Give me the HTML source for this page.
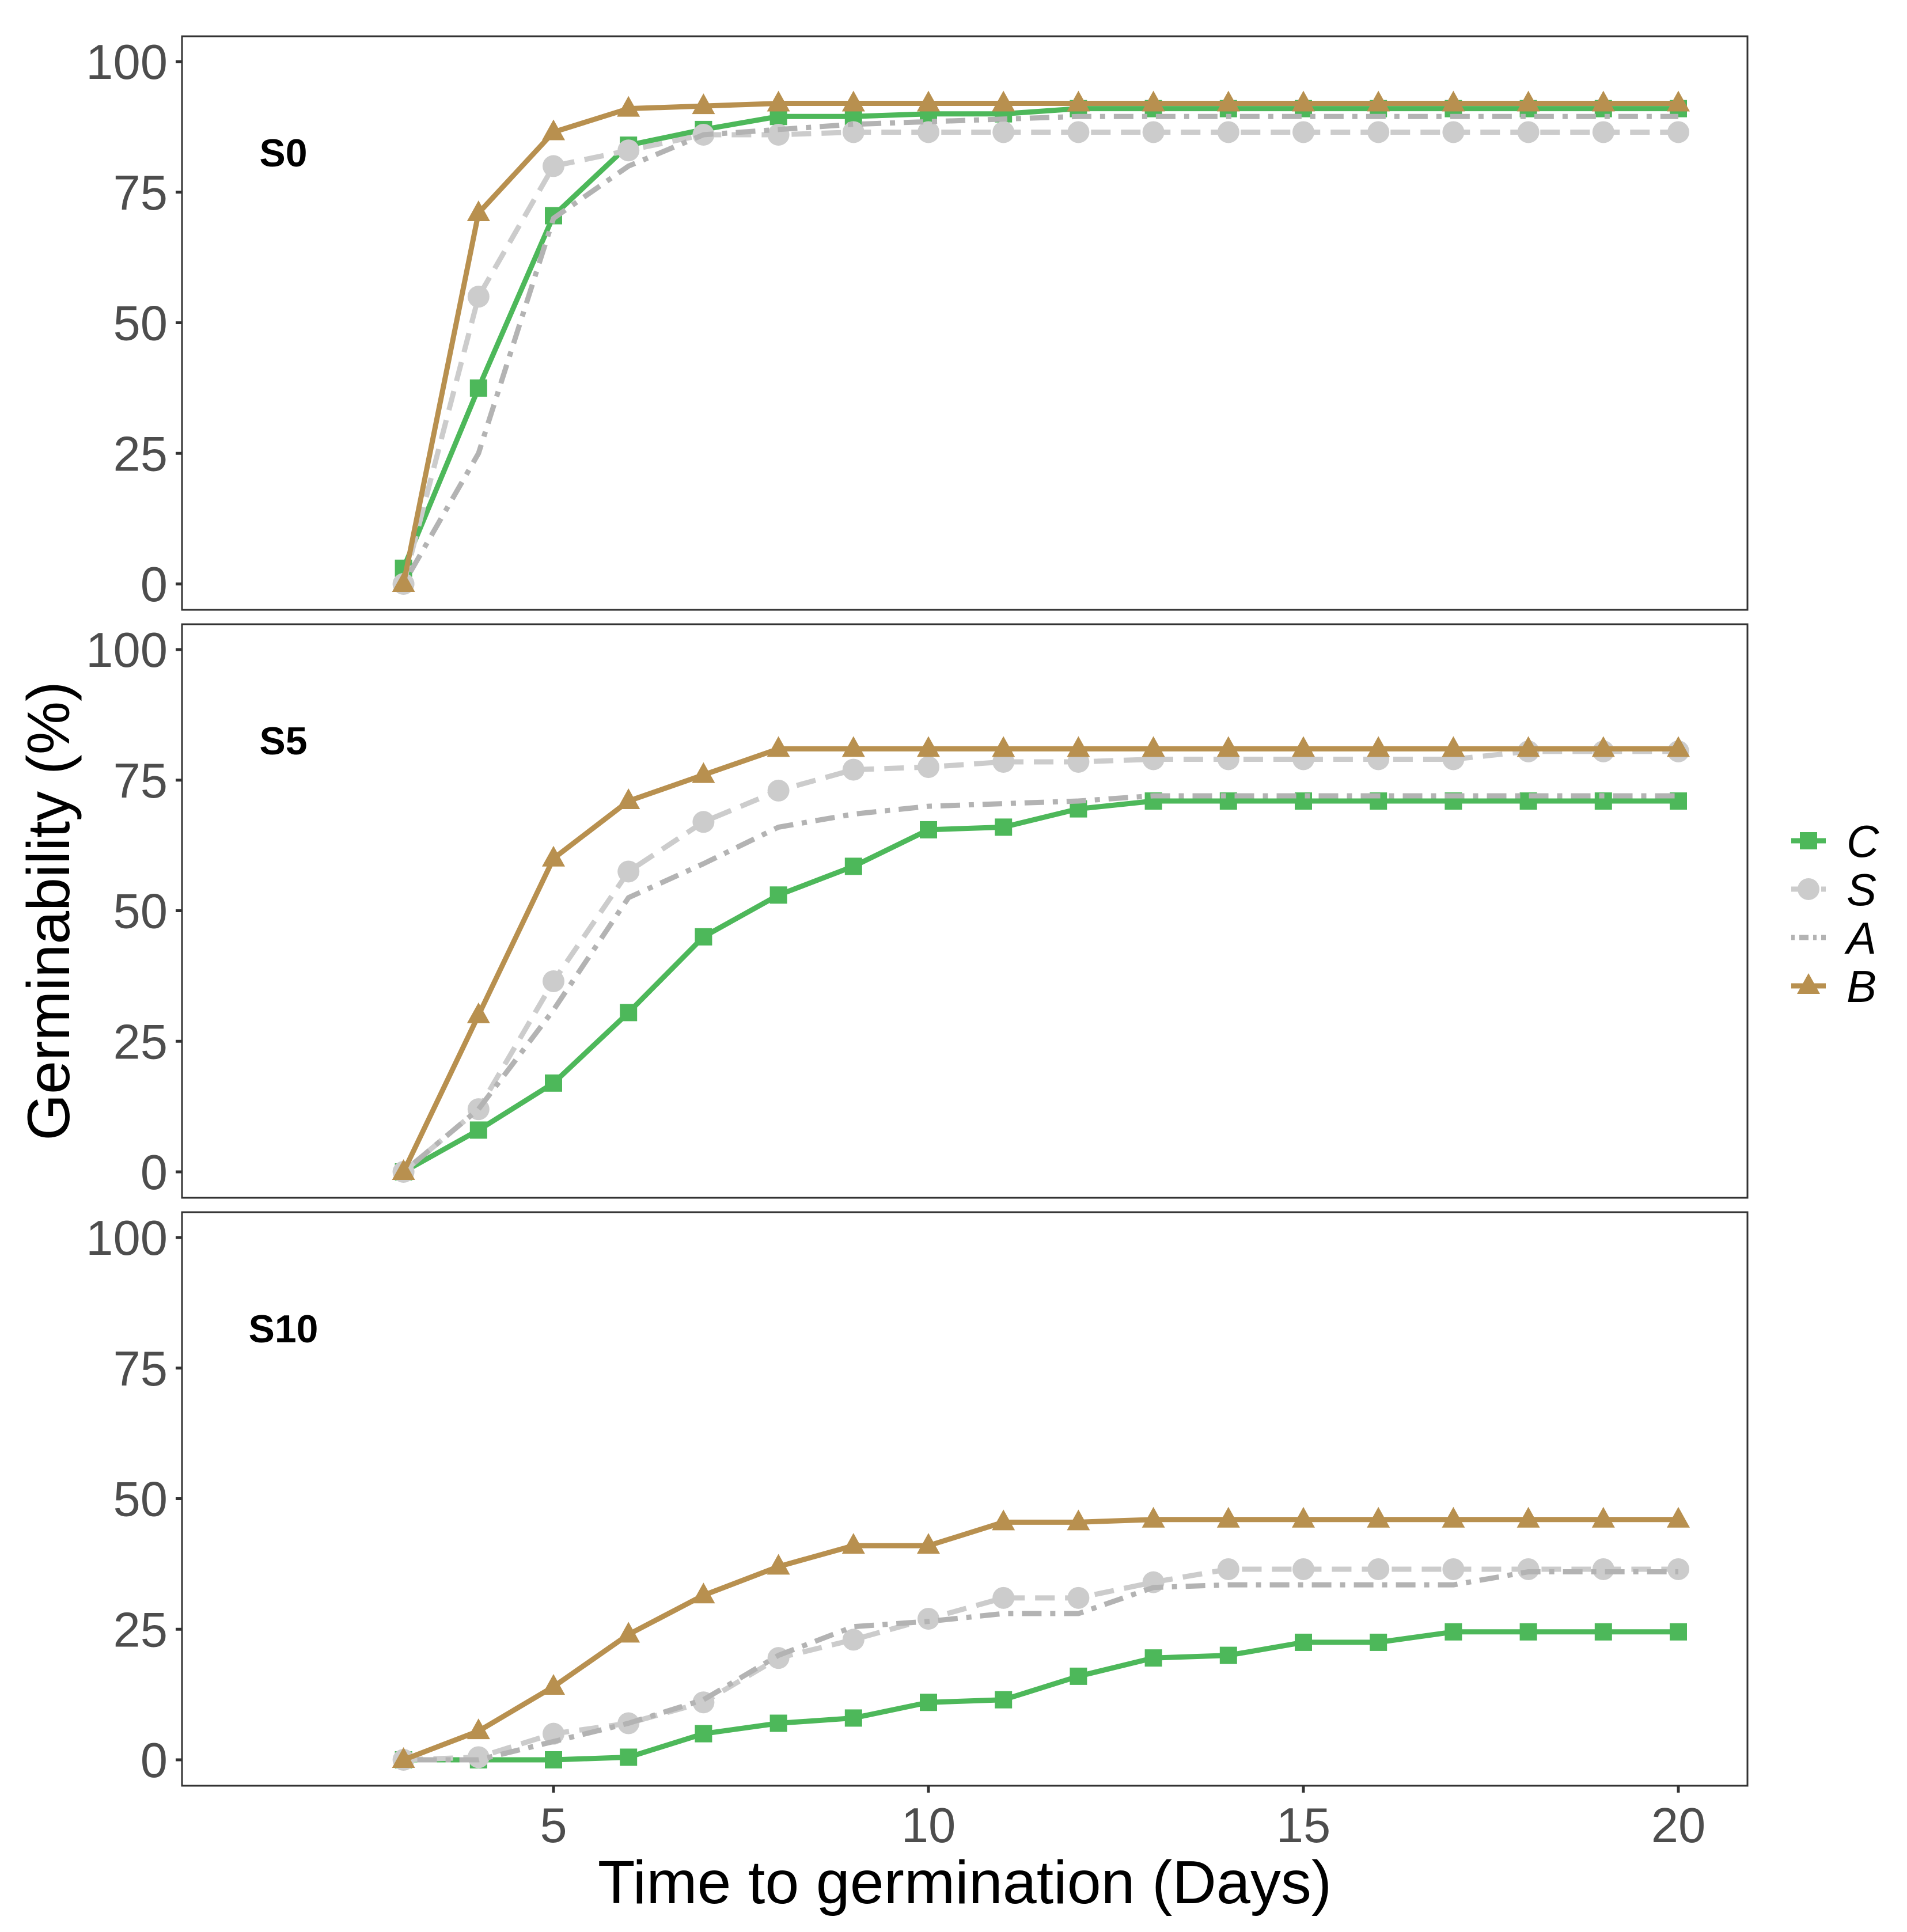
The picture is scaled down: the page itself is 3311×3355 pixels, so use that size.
<!DOCTYPE html>
<html><head><meta charset="utf-8"><style>
html,body{margin:0;padding:0;background:#fff}
svg{display:block}
</style></head><body>
<svg id="chart" width="3311" height="3355" viewBox="0 0 3311 3355" xmlns="http://www.w3.org/2000/svg" font-family="Liberation Sans, sans-serif"></svg>
<script>
const days = [3,4,5,6,7,8,9,10,11,12,13,14,15,16,17,18,19,20];
const panelNames = ["S0","S5","S10"];
const yTicks = [0,25,50,75,100];
const xTicks = [5,10,15,20];
const seriesNames = ["C","S","A","B"];
const s0C = [3,37.5,70.5,84,87,89.5,89.5,90,90,91,91,91,91,91,91,91,91,91];
const s0S = [0,55,80,83,86,86,86.5,86.5,86.5,86.5,86.5,86.5,86.5,86.5,86.5,86.5,86.5,86.5];
const s0A = [0,25,70,80,86,87,88,88.5,89,89.5,89.5,89.5,89.5,89.5,89.5,89.5,89.5,89.5];
const s0B = [0,71,86.5,91,91.5,92,92,92,92,92,92,92,92,92,92,92,92,92];
const s5C = [0,8,17,30.5,45,53,58.5,65.5,66,69.5,71,71,71,71,71,71,71,71];
const s5S = [0,12,36.5,57.5,67,73,77,77.5,78.5,78.5,79,79,79,79,79,80.5,80.5,80.5];
const s5A = [0,12,31,52.5,59,66,68.5,70,70.5,71,72,72,72,72,72,72,72,72];
const s5B = [0,30,60,71,76,81,81,81,81,81,81,81,81,81,81,81,81,81];
const s10C = [0,0,0,0.5,5,7,8,11,11.5,16,19.5,20,22.5,22.5,24.5,24.5,24.5,24.5];
const s10S = [0,0.5,5,7,11,19.5,23,27,31,31,34,36.5,36.5,36.5,36.5,36.5,36.5,36.5];
const s10A = [0,0,3.5,7,11.5,20,25.5,26.5,28,28,33,33.5,33.5,33.5,33.5,36,36,36];
const s10B = [0,5.5,14,24,31.5,37,41,41,45.5,45.5,46,46,46,46,46,46,46,46];
const panelData = [[s0C,s0S,s0A,s0B],[s5C,s5S,s5A,s5B],[s10C,s10S,s10A,s10B]];

const NS="http://www.w3.org/2000/svg";
const svg=document.getElementById('chart');
function mk(tag,attrs,parent){const e=document.createElementNS(NS,tag);for(const k in attrs)e.setAttribute(k,attrs[k]);(parent||svg).appendChild(e);return e;}
const L=316,R=3034,panelTops=[63,1084,2105],PH=996;
const xs=d=>961+(d-5)*130.2;
const ysFor=top=>v=>top+951-v*(907/100);
const styles=[
 {color:"#4db85a",dash:"",marker:"square"},
 {color:"#cccccc",dash:"34 18",marker:"circle"},
 {color:"#b3b3b3",dash:"9 15 34 15",marker:"none"},
 {color:"#b8904f",dash:"",marker:"triangle"}];
function marker(type,x,y,color,g){
 let e=null;
 if(type==="square")e=mk('rect',{x:x-15,y:y-15,width:30,height:30,fill:color},g);
 else if(type==="circle")e=mk('circle',{cx:x,cy:y,r:19,fill:color},g);
 else if(type==="triangle")e=mk('polygon',{points:`${x},${y-22} ${x-20},${y+14} ${x+20},${y+14}`,fill:color},g);
 return e;
}
panelTops.forEach((top,pi)=>{
 const ys=ysFor(top);
 const g=mk('g',{});
 
 
 const frame=mk('rect',{x:L,y:top,width:R-L,height:PH,fill:'#fff',stroke:'#333',"stroke-width":3},g);
 
 
 yTicks.forEach(t=>{
  const y=ys(t);
  const tk=mk('line',{x1:L-11,x2:L,y1:y,y2:y,stroke:'#333',"stroke-width":5},g);
  
  
  const tx=mk('text',{x:291,y:y+30,"text-anchor":"end","font-size":85,fill:'#4d4d4d'},g);
  tx.textContent=t;
  
  
 });
 const lab=mk('text',{x:492,y:top+226,"text-anchor":"middle","font-size":68,"font-weight":"bold",fill:'#000'},g);
 lab.textContent=panelNames[pi];
 
 
 panelData[pi].forEach((vals,si)=>{
  const st=styles[si];
  const sg=mk('g',{},g);
  
  
  const pts=vals.map((v,i)=>xs(days[i])+','+ys(v)).join(' ');
  const pl=mk('polyline',{points:pts,fill:'none',stroke:st.color,"stroke-width":9,"stroke-linejoin":"round"},sg);
  if(st.dash)pl.setAttribute('stroke-dasharray',st.dash);
  
  
  vals.forEach((v,i)=>{
   const m=marker(st.marker,xs(days[i]),ys(v),st.color,sg);
   if(m){
   }
  });
 });
});
const bottom=panelTops[2]+PH;
xTicks.forEach(t=>{
 const x=xs(t);
 const tk=mk('line',{x1:x,x2:x,y1:bottom,y2:bottom+12,stroke:'#333',"stroke-width":5});
 
 
 const tx=mk('text',{x:x,y:bottom+98,"text-anchor":"middle","font-size":85,fill:'#4d4d4d'});
 tx.textContent=t;
 
 
});
const xt=mk('text',{x:1675,y:3305,"text-anchor":"middle","font-size":106,fill:'#000'});
xt.textContent="Time to germination (Days)";


const yt=mk('text',{x:0,y:0,"text-anchor":"middle","font-size":104,fill:'#000',transform:'translate(120,1582) rotate(-90)'});
yt.textContent="Germinability (%)";


const legY=[1460,1544,1628,1712];
const lg=mk('g',{});


seriesNames.forEach((n,i)=>{
 const st=styles[i];const y=legY[i];
 const eg=mk('g',{},lg);
 
 
 const ln=mk('line',{x1:3110,x2:3170,y1:y,y2:y,stroke:st.color,"stroke-width":9},eg);
 if(st.dash)ln.setAttribute('stroke-dasharray',i===2?"6 8 16 8":"18 8");
 marker(st.marker,3140,y,st.color,eg);
 const tx=mk('text',{x:3206,y:y+28,"font-size":78,"font-style":"italic",fill:'#000'},eg);
 tx.textContent=n;
});
</script>
</body></html>
